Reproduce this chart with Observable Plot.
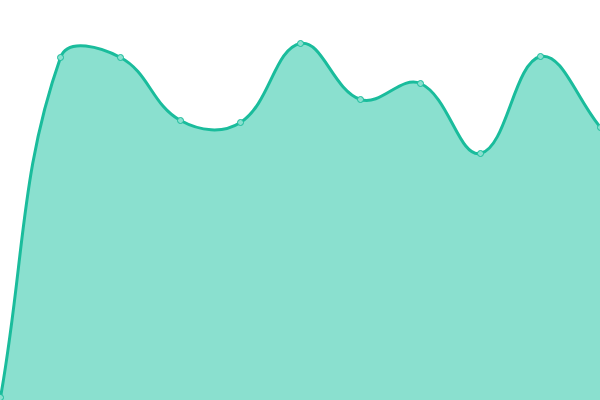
<!DOCTYPE html>
<html>
<head>
<meta charset="utf-8">
<script src="https://cdn.jsdelivr.net/npm/d3@7"></script>
<script src="https://cdn.jsdelivr.net/npm/@observablehq/plot@0.6"></script>
<style>
  html, body { margin: 0; padding: 0; background: #fff; overflow: hidden; }
</style>
</head>
<body>
<div id="chart"></div>
<script>
const categories = [0, 1, 2, 3, 4, 5, 6, 7, 8, 9, 10];
const values = [3, 343, 343, 280, 278, 357, 301, 317, 247, 344, 273];

const data = categories.map((c, i) => ({x: c, y: values[i]}));

// Tension-based spline (distance-weighted control points), control points kept inside the frame
function makeSpline(tension, W, H) {
  function Spline(context) { this._context = context; }
  Spline.prototype = {
    areaStart() { this._line = 0; },
    areaEnd() { this._line = NaN; },
    lineStart() { this._pts = []; },
    point(x, y) { this._pts.push([+x, +y]); },
    lineEnd() {
      const p = this._pts, n = p.length, c = this._context;
      if (n) {
        if (this._line) c.lineTo(p[0][0], p[0][1]); else c.moveTo(p[0][0], p[0][1]);
        if (n > 1) {
          const cpPrev = [], cpNext = [];
          const cap = (v, lo, hi) => Math.max(lo, Math.min(hi, v));
          for (let i = 0; i < n; i++) {
            const cur = p[i], prev = p[i - 1] || cur, next = p[i + 1] || cur;
            const d01 = Math.hypot(cur[0] - prev[0], cur[1] - prev[1]);
            const d12 = Math.hypot(next[0] - cur[0], next[1] - cur[1]);
            let s01 = d01 / (d01 + d12), s12 = d12 / (d01 + d12);
            if (!isFinite(s01)) s01 = 0;
            if (!isFinite(s12)) s12 = 0;
            const fa = tension * s01, fb = tension * s12;
            const dx = next[0] - prev[0], dy = next[1] - prev[1];
            cpPrev[i] = [cap(cur[0] - fa * dx, 0, W), cap(cur[1] - fa * dy, 0, H)];
            cpNext[i] = [cap(cur[0] + fb * dx, 0, W), cap(cur[1] + fb * dy, 0, H)];
          }
          for (let i = 1; i < n; i++) {
            c.bezierCurveTo(cpNext[i - 1][0], cpNext[i - 1][1], cpPrev[i][0], cpPrev[i][1], p[i][0], p[i][1]);
          }
        }
      }
      if (this._line || (this._line !== 0 && n === 1)) c.closePath();
      this._line = 1 - this._line;
    }
  };
  return (context) => new Spline(context);
}

const W = 600, H = 400;
const curve = makeSpline(0.4, W, H);

const chart = Plot.plot({
  width: W,
  height: H,
  margin: 0,
  x: {domain: [0, 10], axis: null},
  y: {domain: [0, 400], axis: null},
  style: {background: "white", overflow: "visible"},
  marks: [
    Plot.areaY(data, {x: "x", y: "y", curve, fill: "#8ae0cf"}),
    Plot.lineY(data, {x: "x", y: "y", curve, stroke: "#1abc9c", strokeWidth: 3}),
    Plot.dot(data, {x: "x", y: "y", r: 3, fill: "#8ae0cf", stroke: "#1abc9c", strokeWidth: 1})
  ]
});
document.getElementById("chart").appendChild(chart);
</script>
</body>
</html>
